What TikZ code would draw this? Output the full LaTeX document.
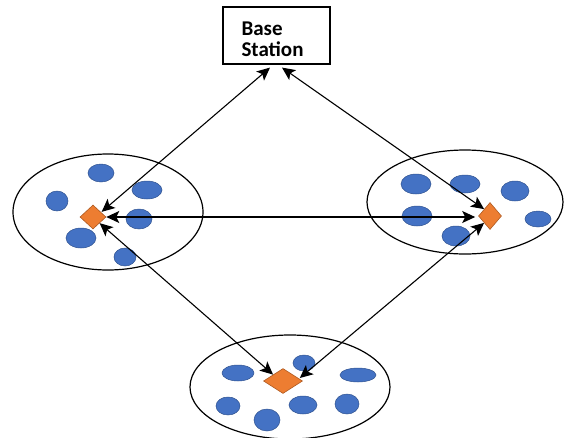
\documentclass[tikz,border=0pt]{standalone}
\usepackage{fontspec}
\setmainfont{Carlito}
\usetikzlibrary{arrows.meta,shapes.geometric,calc}
\definecolor{dotblue}{HTML}{4472C4}
\definecolor{dotedge}{HTML}{2F528F}
\definecolor{headorange}{HTML}{ED7D31}
\definecolor{headedge}{HTML}{AE5A21}
\begin{document}
\begin{tikzpicture}[x=1pt,y=-1pt,
  cluster/.style={draw=black,line width=1.2pt,shape=ellipse,inner sep=0pt},
  sensor/.style={shape=ellipse,fill=dotblue,draw=dotedge,line width=0.5pt,inner sep=0pt},
  head/.style={shape=diamond,fill=headorange,draw=headedge,line width=0.6pt,inner sep=0pt},
  link/.style={draw=black,line width=1.1pt,{Stealth[length=13pt,width=12pt,inset=3pt]}-{Stealth[length=13pt,width=12pt,inset=3pt]}},
  station/.style={draw=black,line width=1.2pt,minimum width=107pt,minimum height=57pt,
    inner sep=0pt,font=\bfseries\fontsize{21}{21}\selectfont}
]
\useasboundingbox (0,0) rectangle (565,437);

% base station
\node[station] (bs) at (276.5,35.5)
  {\raisebox{-4pt}[\height][\depth]{\parbox{70pt}{\raggedright Base\\Station}}};

% clusters
\node[cluster,minimum width=190pt,minimum height=116pt] (lc) at (108,212) {};
\node[cluster,minimum width=196pt,minimum height=104pt] (rc) at (465,202) {};
\node[cluster,minimum width=200pt,minimum height=104pt] (bc) at (290,387) {};

% sensor nodes, left cluster
\node[sensor,minimum width=26pt,minimum height=18pt] (l1) at (101,173) {};
\node[sensor,minimum width=30pt,minimum height=18pt] (l2) at (147,190) {};
\node[sensor,minimum width=22pt,minimum height=20pt] (l3) at (57,201) {};
\node[sensor,minimum width=26pt,minimum height=20pt] (l4) at (139,219) {};
\node[sensor,minimum width=30pt,minimum height=20pt] (l5) at (81,238) {};
\node[sensor,minimum width=22pt,minimum height=18pt] (l6) at (125,257) {};

% sensor nodes, right cluster
\node[sensor,minimum width=30pt,minimum height=20pt] (r1) at (416,184) {};
\node[sensor,minimum width=30pt,minimum height=18pt] (r2) at (465,184) {};
\node[sensor,minimum width=28pt,minimum height=20pt] (r3) at (515,191) {};
\node[sensor,minimum width=30pt,minimum height=20pt] (r4) at (417,216) {};
\node[sensor,minimum width=26pt,minimum height=16pt] (r5) at (538,219) {};
\node[sensor,minimum width=28pt,minimum height=20pt] (r6) at (456,236) {};

% sensor nodes, bottom cluster
\node[sensor,minimum width=32pt,minimum height=16pt] (b1) at (238,373) {};
\node[sensor,minimum width=22pt,minimum height=16pt] (b2) at (304,363) {};
\node[sensor,minimum width=36pt,minimum height=14pt] (b3) at (358,375) {};
\node[sensor,minimum width=24pt,minimum height=18pt] (b4) at (228,406) {};
\node[sensor,minimum width=28pt,minimum height=18pt] (b5) at (303,405) {};
\node[sensor,minimum width=24pt,minimum height=20pt] (b6) at (347,404) {};
\node[sensor,minimum width=26pt,minimum height=22pt] (b7) at (267,420) {};

% cluster heads
\node[head,minimum width=26pt,minimum height=24pt] (ld) at (93,217) {};
\node[head,minimum width=23pt,minimum height=27pt] (rd) at (490,216) {};
\node[head,minimum width=39pt,minimum height=25pt] (bd) at (283,381) {};

% links
\draw[link] ($(bs.south)+(-6.5,3)$) -- ($(ld.north east)+(2,1)$);
\draw[link] ($(bs.south)+(5.5,3)$) -- (rd.north west);
\draw[link] (ld.east) -- ($(rd.west)+(-3,1)$);
\draw[link] (ld.south east) -- (bd.north west);
\draw[link] (rd.south west) -- ($(bd.east)+(-3,-3)$);
\end{tikzpicture}
\end{document}
